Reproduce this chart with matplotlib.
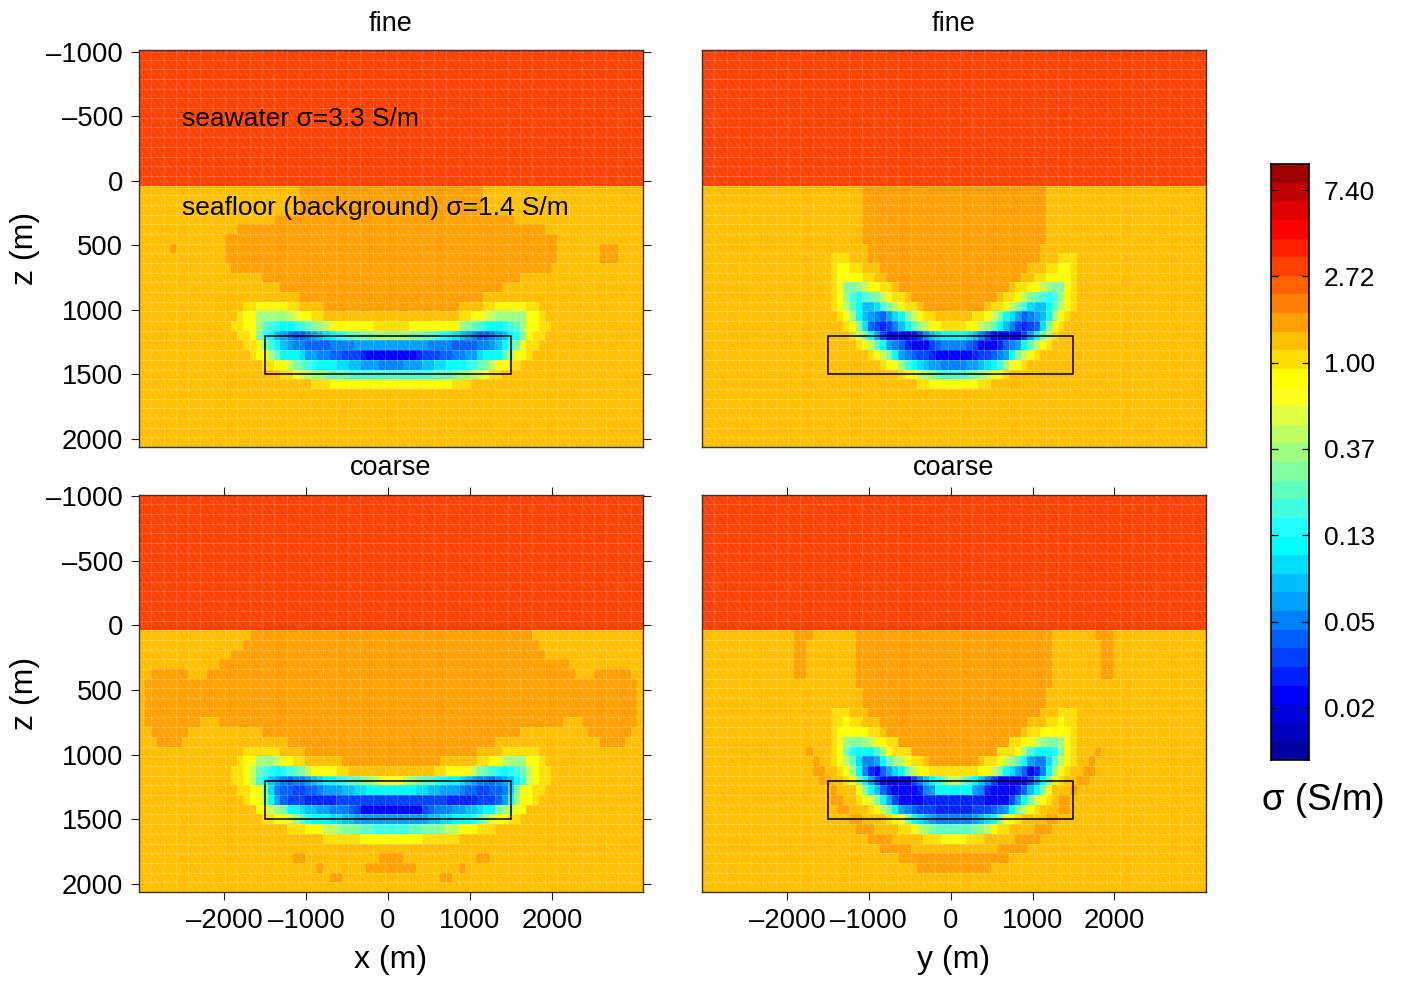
import numpy as np
import matplotlib
matplotlib.use('Agg')
import matplotlib.pyplot as plt
from matplotlib.colors import ListedColormap, BoundaryNorm
from matplotlib.collections import LineCollection
from matplotlib.patches import Rectangle

plt.rcParams['font.family'] = ['Liberation Sans', 'DejaVu Sans']

# colour levels, top of the colorbar first
LEVEL_CHARS = '0123456789abcdefghijklmnopqrstuv'
LEVEL_COLORS = ['#9F0000', '#BF0000', '#DF0000', '#FF0000', '#FF2000', '#FF4000', '#FF6000', '#FF8000',
                '#FF9F00', '#FFBF00', '#FFDF00', '#FFFF00', '#FFFF20', '#DFFF40', '#BFFF60', '#9FFF80',
                '#80FF9F', '#60FFBF', '#40FFDF', '#20FFFF', '#00FFFF', '#00DFFF', '#00BFFF', '#009FFF',
                '#0080FF', '#0060FF', '#0040FF', '#0020FF', '#0000FF', '#0000DF', '#0000BF', '#00009F']
CBAR_TICKS = [7.40, 2.72, 1.00, 0.37, 0.13, 0.05, 0.02]

N_COLS = 82
N_WATER = 14
N_SEAFLOOR = 27
CELL = 75.0
X_LEFT = -3037.5
Z_TOP = -1012.5

WATER_LEVEL = '5'
SEAFLOOR_LEVEL = '9'

# rows below the seafloor, left part | right part, measured from the middle of the section
# nothing after the | means the right part mirrors the left one
FINE_X = [
    '8' * 15 + '|', '8' * 15 + '|', '8' * 15 + '|',
    '8' * 19 + '|' + '8' * 20,
    '8' * 25 + '|',
    '8' * 27 + '|',
    '8' + '9' * 8 + '8' * 27 + '|' + '8' * 27 + '9' * 7 + '888',
    '8' * 27 + '|' + '8' * 27 + '9' * 7 + '888',
    '8' * 26 + '|',
    '8' * 21 + '|',
    '8' * 18 + '|',
    '8' * 15 + '|',
    'aabbbbbaa9999' + '8' * 11 + '|',
    'abbfffffedbbaa' + '9' * 11 + '|',
    'aabbfhijkkjihgfe' + 'bbbbbbb' + 'aaa|aaa' + 'bbbbbbbb' + 'fghijkkjihf' + 'bbaa',
    'aabgjkmnoppon' + 'mlkjihhggfff|',
    'aabgikmnoopppp' + 'oooo' + 'nnnnnn|',
    'abbfhkkklnnoopp' + 'qqqr' + 'ssss|',
    'aabbeghijkkkllmmnnnoo|',
    'aacdeffghhhiiiiiii|',
    'aaa' + 'b' * 10 + '|',
]
FINE_Y = [
    '8' * 15 + '|', '8' * 15 + '|', '8' * 15 + '|', '8' * 15 + '|', '8' * 15 + '|', '8' * 15 + '|',
    '8' * 14 + '|',
    'aaa999' + '8' * 14 + '|',
    'abbaa999' + '8' * 12 + '|',
    'abbbbaa99' + '8' * 11 + '|',
    'abggfebbaa9' + '8' * 9 + '|',
    'abfijihgebaa9' + '8' * 7 + '|',
    'abehkmmligebaa9' + '8' * 5 + '|',
    'abfkmnopnlkgebaa999|',
    'abglpqrqomkhfebbaa|',
    'aegknqsssssqomlkk|',
    'abehknoprsssqpoo|',
    'abegknopqqrsss|',
    'abcfiklmnnoo|',
    'abbefghii|',
    'aabbbb|',
]
COARSE_X = [
    '8' * 23 + '|',
    '8' * 24 + '|',
    '8' * 26 + '|' + '8' * 25,
    '8' * 28 + '|' + '8' * 29,
    '8' * 6 + '999' + '8' * 30 + '|',
    '8' * 40 + '|', '8' * 40 + '|', '8' * 40 + '|', '8' * 40 + '|',
    '8' * 9 + '999' + '8' * 28 + '|',
    '8' * 6 + '9' * 12 + '8' * 21 + '|' + '8' * 21 + '9' * 11 + '8' * 7,
    '8888' + '9' * 17 + '8' * 17 + '|',
    'aaaaaa9999' + '8' * 14 + '|',
    'abbfffebbaa' + '9' * 6 + '8' * 8 + '|',
    'aabehijkjihgebbbbaa' + '9' * 7 + '|',
    'aabeikmnopoonmlkkjihhgfecc|',
    'aabbgloppqqppo' + 'nnnmmllkkkk|',
    'abbfknpqqqrrrrr' + 'q' * 9 + '|',
    'bbefgkklmmnnooopq' + 'sssss|',
    'aabbdfhjkkkllmmnnnnnn|',
    'aaabbbeefggghhiii|',
    'a' * 6 + 'b' * 5 + '|',
    '|',
    '88' + '9' * 12 + '88|',
    '8' + '9' * 7 + '8888|',
    '88' + '9' * 8 + '|',
]
COARSE_Y = [
    '888' + '9' * 7 + '8' * 16 + '|',
    '88' + '9' * 8 + '8' * 16 + '|', '88' + '9' * 8 + '8' * 16 + '|',
    '88' + '9' * 8 + '8' * 16 + '|', '88' + '9' * 8 + '8' * 16 + '|',
    '8' * 16 + '|',
    '8' * 15 + '|', '8' * 15 + '|',
    'aaa999' + '8' * 14 + '|',
    'aabaa999' + '8' * 12 + '|',
    'abbbbbaa9' + '8' * 11 + '|',
    'abfggfebbaa' + '8' * 9 + '|',
    '8999abgjkkkifbaaa' + '8' * 7 + '|',
    '899abehloonkhfebaa98888|',
    '8899abfkorspnlkgebbaaaa|',
    '8899abgknqsssssqomkige|',
    '8999bgkmprssssronkkk|',
    '8899abdgknqssssrrrrr|rrrrrssssqnkgdba988',
    '88999abegknopqqqrrr|',
    '889999abcgklmnooo|',
    '8889999aabefghhh|',
    '888899999aaabb|',
    '88888' + '9' * 7 + '|',
    '8' * 9 + '|',
    '8' * 6 + '|',
]

titles = ['fine', 'fine', 'coarse', 'coarse']
x_labels = ['x (m)', 'y (m)']
x_ticks = [-2000, -1000, 0, 1000, 2000]
x_tick_labels = ['\u20132000', '\u20131000', '0', '1000', '2000']
z_ticks = [-1000, -500, 0, 500, 1000, 1500, 2000]
z_tick_labels = ['\u20131000', '\u2013500', '0', '500', '1000', '1500', '2000']

box_x = [-1500, 1500]
box_z = [1200, 1500]

sigma_edges = np.logspace(1, -2, 33)[::-1]
cmap = ListedColormap(LEVEL_COLORS[::-1])
norm = BoundaryNorm(sigma_edges, cmap.N)


def level_sigma(ch):
    k = LEVEL_CHARS.index(ch)
    return np.sqrt(sigma_edges[31 - k] * sigma_edges[32 - k])


def build_field(rows):
    field = np.full((N_WATER + N_SEAFLOOR, N_COLS), level_sigma(SEAFLOOR_LEVEL))
    field[:N_WATER, :] = level_sigma(WATER_LEVEL)
    mid = N_COLS // 2
    for i, row in enumerate(rows):
        left, right = row.split('|')
        if right == '':
            right = left[::-1]
        for j, ch in enumerate(left):
            field[N_WATER + i, mid - len(left) + j] = level_sigma(ch)
        for j, ch in enumerate(right):
            field[N_WATER + i, mid + j] = level_sigma(ch)
    return field


def draw_panel(ax, rows, title, is_left, is_bottom):
    xe = X_LEFT + CELL * np.arange(N_COLS + 1)
    ze = Z_TOP + CELL * np.arange(N_WATER + N_SEAFLOOR + 1)
    ax.pcolormesh(xe, ze, build_field(rows), cmap=cmap, norm=norm, linewidth=0, rasterized=True)
    # faint mesh that shows through in the original
    ax.vlines(xe[::2], ze[0], ze[-1], color='white', alpha=0.2, linewidth=0.7)
    ax.hlines(ze, xe[0], xe[-1], color='white', alpha=0.2, linewidth=0.7)
    diag = [[(xe[i], ze[j]), (xe[i + 1], ze[j + 1])] for i in range(N_COLS) for j in range(len(ze) - 1)]
    ax.add_collection(LineCollection(diag, colors='white', alpha=0.13, linewidths=0.6))
    ax.add_patch(Rectangle((box_x[0], box_z[0]), box_x[1] - box_x[0], box_z[1] - box_z[0],
                           fill=False, edgecolor='black', linewidth=1.1, zorder=5))
    ax.set_xlim(xe[0], xe[-1])
    ax.set_ylim(ze[-1], ze[0])
    ax.set_title(title, fontsize=19.5, pad=14)
    ax.set_xticks(x_ticks)
    ax.set_yticks(z_ticks)
    ax.tick_params(direction='out', length=6, width=0.8, color='#222222', labelsize=19.7, pad=5.5,
                   top=is_bottom, bottom=is_bottom, labelbottom=is_bottom,
                   left=is_left, right=is_left, labelleft=is_left)
    if is_bottom:
        ax.set_xticklabels(x_tick_labels)
    if is_left:
        ax.set_yticklabels(z_tick_labels)
        ax.set_ylabel('z (m)', fontsize=23, va='center')
        ax.yaxis.set_label_coords(-0.226, 0.5)
    for s in ax.spines.values():
        s.set_linewidth(1.0)
        s.set_color('#333333')


def axes_px(fig, left, top, right, bottom):
    W, H = 1403.0, 982.0
    return fig.add_axes([left / W, 1 - bottom / H, (right - left) / W, (bottom - top) / H])


fig = plt.figure(figsize=(14.03, 9.82), dpi=100)
ax_fx = axes_px(fig, 139, 50, 643, 447)
ax_fy = axes_px(fig, 702, 50, 1205.5, 447)
ax_cx = axes_px(fig, 139, 494.5, 643, 892)
ax_cy = axes_px(fig, 702, 494.5, 1205.5, 892)

draw_panel(ax_fx, FINE_X, titles[0], True, False)
draw_panel(ax_fy, FINE_Y, titles[1], False, False)
draw_panel(ax_cx, COARSE_X, titles[2], True, True)
draw_panel(ax_cy, COARSE_Y, titles[3], False, True)

for ax, label in zip([ax_cx, ax_cy], x_labels):
    ax.set_xlabel(label, fontsize=23, va='center')
    ax.xaxis.set_label_coords(0.5, -0.171)

ax_fx.text(-2510, -480, 'seawater \u03c3=3.3 S/m', fontsize=19, va='center')
ax_fx.text(-2510, 215, 'seafloor (background) \u03c3=1.4 S/m', fontsize=19, va='center')

# colorbar
cax = axes_px(fig, 1271, 164, 1309, 760)
cax.pcolormesh([0, 1], sigma_edges, np.sqrt(sigma_edges[:-1] * sigma_edges[1:])[:, None], cmap=cmap, norm=norm)
cax.set_yscale('log')
cax.set_ylim(sigma_edges[0], sigma_edges[-1])
cax.set_xticks([])
cax.minorticks_off()
tick_pos = np.exp([2, 1, 0, -1, -2, -3, -4])
cax.set_yticks(tick_pos)
cax.set_yticklabels(['%.2f' % v for v in CBAR_TICKS])
cax.tick_params(axis='y', which='major', direction='in', length=5, width=0.9, left=True, right=True,
                labelsize=19, pad=10.5, labelleft=False, labelright=True)
cax.tick_params(axis='y', which='minor', left=False, right=False, labelleft=False, labelright=False)
for s in cax.spines.values():
    s.set_linewidth(1.2)
fig.text(1323 / 1403, 1 - 800 / 982, '\u03c3 (S/m)', fontsize=26.5, ha='center', va='center')

fig.savefig('out.png', dpi=100)
